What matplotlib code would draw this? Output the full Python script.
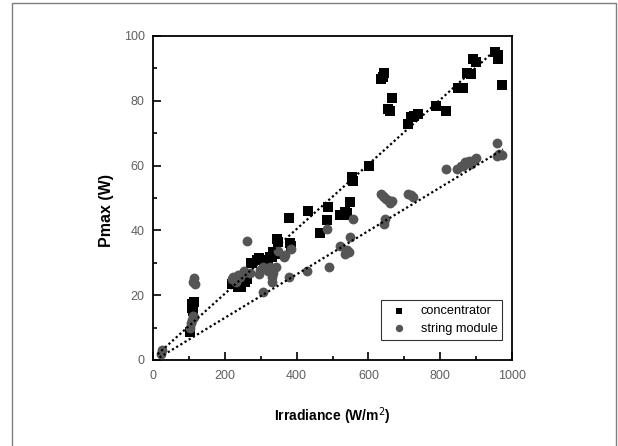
#!/usr/bin/env python3
import matplotlib as mpl

mpl.use("Agg")
import matplotlib.pyplot as plt
from matplotlib.patches import Rectangle
from matplotlib.ticker import MultipleLocator

# values
conc_irr = [103, 108, 110, 115, 112, 221, 224, 238, 245, 256, 263, 272, 275, 289, 294,
            311, 317, 320, 326, 331, 335, 342, 346, 348, 380, 382, 384, 431, 465, 484,
            488, 521, 531, 535, 541, 549, 554, 558, 602, 636, 643, 640, 655, 660, 667,
            709, 720, 726, 737, 788, 816, 850, 863, 874, 885, 890, 901, 954, 960, 962, 973]
conc_pmax = [8.7, 16.0, 17.2, 18.0, 15.0, 23.5, 24.2, 22.6, 22.4, 24.2, 25.0, 29.8, 29.8,
             30.9, 31.5, 29.6, 30.9, 30.2, 31.9, 31.7, 33.4, 32.7, 37.2, 36.5, 43.7, 36.0,
             35.2, 46.1, 39.1, 43.2, 47.3, 44.8, 44.8, 45.8, 45.5, 48.9, 56.4, 55.2, 59.8,
             86.7, 88.5, 87.5, 77.5, 77.0, 81.0, 72.8, 74.9, 75.3, 75.9, 78.3, 76.7, 84.0,
             84.0, 88.5, 88.2, 92.9, 91.9, 95.0, 94.0, 92.9, 84.9]

str_irr = [22, 24, 103, 106, 108, 112, 115, 112, 115, 116, 221, 224, 230, 238, 243, 252,
           254, 262, 270, 296, 298, 307, 307, 320, 326, 331, 331, 335, 342, 348, 364, 368,
           380, 384, 430, 485, 490, 520, 534, 540, 545, 548, 556, 636, 640, 643, 650, 655,
           660, 666, 643, 647, 709, 718, 724, 816, 848, 858, 863, 870, 874, 880, 885, 893,
           899, 958, 958, 965, 973]
str_pmax = [2.0, 3.1, 9.8, 11.5, 12.3, 13.7, 13.3, 24.2, 25.2, 23.5, 25.0, 25.7, 24.0, 26.2,
            25.5, 26.7, 27.5, 36.6, 27.0, 26.5, 27.8, 21.1, 28.6, 27.6, 28.8, 25.5, 24.0,
            27.0, 28.6, 33.7, 31.7, 32.5, 25.5, 34.3, 27.6, 40.4, 28.6, 35.3, 32.7, 34.0,
            33.2, 37.9, 43.5, 51.2, 50.5, 50.2, 49.6, 49.4, 48.5, 49.1, 42.0, 43.5, 51.2,
            50.8, 50.2, 59.0, 59.0, 59.8, 60.0, 61.0, 60.7, 61.5, 60.5, 61.8, 62.5, 66.9,
            63.1, 63.7, 63.4]

# trend lines (end points)
conc_fit_x = [13, 957]
conc_fit_y = [1.8, 96.0]
str_fit_x = [18, 975]
str_fit_y = [0.8, 65.0]

GREY = "#555555"
TICK_GREY = "#606060"

plt.rcParams["font.family"] = ["Liberation Sans", "DejaVu Sans"]

fig = plt.figure(figsize=(6.18, 4.46), dpi=100)
ax = fig.add_axes([153 / 618, 86 / 446, 359 / 618, 324 / 446])

ax.scatter(conc_irr, conc_pmax, marker="s", s=42, color="black", linewidths=0,
           zorder=3, label="concentrator")
ax.scatter(str_irr, str_pmax, marker="o", s=50, color=GREY, linewidths=0,
           zorder=4, label="string module")
ax.plot(conc_fit_x, conc_fit_y, color="black", ls=(0, (1, 1.2)), lw=1.6, zorder=5)
ax.plot(str_fit_x, str_fit_y, color="black", ls=(0, (1, 1.2)), lw=1.6, zorder=5)

ax.set_xlim(0, 1000)
ax.set_ylim(0, 100)
ax.xaxis.set_major_locator(MultipleLocator(200))
ax.xaxis.set_minor_locator(MultipleLocator(100))
ax.yaxis.set_major_locator(MultipleLocator(20))
ax.yaxis.set_minor_locator(MultipleLocator(10))
ax.tick_params(which="both", direction="in", width=1.2, colors="black",
               labelcolor=TICK_GREY, labelsize=9)
ax.tick_params(which="major", length=5.5)
ax.tick_params(which="minor", length=2.8)
ax.tick_params(axis="x", pad=7)
ax.tick_params(axis="y", pad=6)
for sp in ax.spines.values():
    sp.set_linewidth(1.3)

ax.set_xlabel("Irradiance (W/m$^2$)", fontsize=10, fontweight="bold")
ax.set_ylabel("Pmax (W)", fontsize=11.5, fontweight="bold")
ax.xaxis.set_label_coords(0.5, -0.14)
ax.yaxis.set_label_coords(-0.11, 0.46)

leg = ax.legend(loc="lower left", bbox_to_anchor=(0.635, 0.062), fontsize=9.2,
                frameon=True, fancybox=False, edgecolor="black", borderpad=0.4,
                handletextpad=0.7, labelspacing=0.45, borderaxespad=0, markerscale=0.75)
leg.get_frame().set_linewidth(0.8)

fig.patches.append(Rectangle((12 / 618, -0.01), 604 / 618, 443 / 446 + 0.01,
                             transform=fig.transFigure, fill=False,
                             edgecolor="#7f7f7f", lw=1.0))

fig.savefig("out.png", dpi=100)
